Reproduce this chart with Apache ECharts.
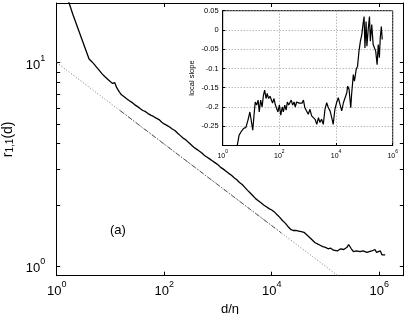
<!DOCTYPE html>
<html>
<head>
<meta charset="utf-8">
<script src="https://cdn.jsdelivr.net/npm/echarts@6/dist/echarts.min.js"></script>
<style>
html,body{margin:0;padding:0;background:#fff;}
#chart{width:407px;height:314px;}
</style>
</head>
<body>
<div id="chart"></div>
<script>
// ---- data (d/eta, r_{1,1}(d)) ----
var mainCurve = [
  [1,30],[2,17.2],[4,10.4],[4.5,10.1],[5,9.8],[5.6,9.45],[6.3,9.1],[7,8.8],[8,8.5],[9,8.25],
  [10,8.05],[11,7.9],[12,7.98],[13,7.55],[14.5,7.2],[16,6.95],[18,6.8],[20,6.65],[22.5,6.5],[25,6.38],
  [28,6.22],[32,6.08],[36,5.94],[40,5.82],[45,5.74],[50,5.62],[56,5.52],[63,5.44],[71,5.34],[80,5.25],
  [90,5.1],[100,5.0],[112,4.92],[126,4.83],[141,4.72],[158,4.64],[178,4.5],[200,4.38],[224,4.26],[251,4.18],
  [282,4.06],[316,3.95],[355,3.84],[398,3.76],[447,3.68],[501,3.6],[562,3.5],[631,3.43],[708,3.36],[794,3.29],
  [891,3.22],[1000,3.15],[1120,3.06],[1260,3.0],[1410,2.93],[1580,2.86],[1780,2.8],[2000,2.72],[2240,2.66],[2510,2.58],
  [2820,2.52],[3160,2.44],[3550,2.36],[3980,2.29],[4470,2.22],[5010,2.15],[5620,2.1],[6310,2.05],[7080,2.0],[7940,1.96],
  [8910,1.92],[10000,1.89],[11200,1.85],[12600,1.79],[14100,1.74],[15800,1.68],[17800,1.63],[20000,1.57],[22400,1.52],[25100,1.5],
  [28200,1.5],[31600,1.49],[35500,1.48],[39800,1.47],[44700,1.43],[50100,1.39],[56200,1.35],[63100,1.31],[70800,1.29],[79400,1.27],
  [89100,1.25],[100000,1.24],[112000,1.22],[123000,1.23],[141000,1.2],[166000,1.19],[191000,1.22],[219000,1.21],[251000,1.24],[269000,1.28],
  [302000,1.22],[331000,1.18],[380000,1.19],[437000,1.18],[501000,1.19],[589000,1.17],[631000,1.15],[724000,1.19],[832000,1.21],[891000,1.17],
  [1047000,1.19],[1122000,1.14],[1202000,1.15],[1288000,1.14]
];
// reference power-law guides (end points)
var refDotted = [[1,10],[1000000,0.631]];
var refDashDot = [[15,5.82],[15000,1.46]];

// ---- inset: local slope vs d/eta ----
var slopeCurve = [
  [3.2,-0.31],[3.3,-0.298],[3.8,-0.273],[4.4,-0.265],[5.4,-0.256],[6.6,-0.253],[7.8,-0.234],[9.1,-0.213],[10.5,-0.208],[11.5,-0.26],
  [12.9,-0.217],[14.1,-0.187],[15.8,-0.195],[17.8,-0.182],[19.5,-0.213],[21.9,-0.182],[24.5,-0.2],[27.5,-0.169],[30.2,-0.156],[33.9,-0.178],
  [37.2,-0.165],[41.7,-0.178],[46.8,-0.172],[52.5,-0.182],[57.5,-0.19],[64.6,-0.178],[72.4,-0.195],[79.4,-0.2],[89.1,-0.213],[100,-0.195],
  [112,-0.221],[126,-0.2],[138,-0.213],[155,-0.195],[174,-0.208],[191,-0.187],[214,-0.195],[240,-0.19],[263,-0.182],[295,-0.195],
  [331,-0.187],[363,-0.2],[407,-0.187],[457,-0.182],[501,-0.19],[562,-0.187],[631,-0.19],[708,-0.182],[794,-0.202],[912,-0.197],
  [1047,-0.219],[1202,-0.206],[1380,-0.223],[1585,-0.22],[1820,-0.232],[2089,-0.245],[2399,-0.228],[2692,-0.24],[3090,-0.232],[3548,-0.245],
  [4074,-0.206],[4677,-0.189],[5370,-0.202],[6166,-0.21],[7079,-0.228],[7943,-0.245],[9120,-0.206],[10470,-0.189],[12020,-0.176],[13800,-0.193],
  [15850,-0.21],[18200,-0.189],[20890,-0.176],[23990,-0.163],[25700,-0.146],[28840,-0.154],[33110,-0.202],[35480,-0.167],[40740,-0.116],[44670,-0.133],
  [51290,-0.103],[57540,-0.094],[64570,-0.055],[72440,-0.029],[81280,-0.012],[89130,0.014],[97720,0.035],[104700,-0.047],[114800,0.022],[123000,-0.042],
  [138000,0.005],[151400,0.035],[162200,-0.029],[182000,0.014],[204200,-0.038],[223900,-0.035],[251200,-0.055],[281800,-0.09],[309000,-0.038],[338800,-0.072],
  [363100,-0.021],[398100,0.009],[426600,-0.025]
];

// ---- axes / ticks ----
var xRange = [1, 2.8e6];
var yRange = [0.9, 19.6];
var xTickExps = [0, 2, 4, 6];
var yLabelExps = [0, 1];
var yTickValues = [1,2,3,4,5,6,7,8,9,10];
var insetXRange = [1, 1e6];
var insetYRange = [-0.3, 0.05];

var L = Math.log10;
function toLog(arr){ return arr.map(function(p){ return [L(p[0]), L(p[1])]; }); }
function toLogX(arr){ return arr.map(function(p){ return [L(p[0]), p[1]]; }); }

var FONT = "'Liberation Sans', Arial, Helvetica, sans-serif";
var powFmt = function(v){ return '{b|10}{s|' + Math.round(v) + '}'; };

var mainRich = {
  b: {fontSize: 13, lineHeight: 18, verticalAlign: 'bottom', color: '#000', fontFamily: FONT},
  s: {fontSize: 9, lineHeight: 9, verticalAlign: 'top', color: '#000', fontFamily: FONT}
};
var insetRich = {
  b: {fontSize: 7, lineHeight: 10, verticalAlign: 'bottom', color: '#000', fontFamily: FONT},
  s: {fontSize: 5, lineHeight: 5, verticalAlign: 'top', color: '#000', fontFamily: FONT}
};

var axisBlack = {show: true, onZero: false, lineStyle: {color: '#000', width: 1}};
var yTickLogs = yTickValues.map(L);

var chart = echarts.init(document.getElementById('chart'), null, {renderer: 'canvas'});
chart.setOption({
  animation: false,
  backgroundColor: '#fff',
  textStyle: {fontFamily: FONT},
  grid: [
    {left: 56.7, right: 3.7, top: 3, bottom: 38.3, outerBoundsMode: 'none', containLabel: false},
    {left: 222.7, right: 14.3, top: 10.7, bottom: 168.5, outerBoundsMode: 'none', containLabel: false,
     show: true, backgroundColor: '#fff', borderColor: '#000', borderWidth: 1}
  ],
  xAxis: [
    {gridIndex: 0, type: 'value', position: 'bottom', min: L(xRange[0]), max: L(xRange[1]),
     axisLine: axisBlack,
     axisTick: {show: true, inside: true, length: 4, lineStyle: {color: '#000'}, customValues: xTickExps},
     axisLabel: {show: true, customValues: xTickExps, margin: 4, formatter: powFmt, rich: mainRich},
     splitLine: {show: false},
     name: 'd/\u03b7', nameLocation: 'middle', nameGap: 11,
     nameTextStyle: {fontSize: 13, color: '#000', fontFamily: FONT}},
    {gridIndex: 0, type: 'value', position: 'top', min: L(xRange[0]), max: L(xRange[1]),
     axisLine: axisBlack,
     axisTick: {show: true, inside: true, length: 4, lineStyle: {color: '#000'}, customValues: xTickExps},
     axisLabel: {show: false}, splitLine: {show: false}},
    {gridIndex: 1, type: 'value', position: 'bottom', min: L(insetXRange[0]), max: L(insetXRange[1]), interval: 2,
     axisLine: axisBlack,
     axisTick: {show: true, inside: true, length: 2.5, lineStyle: {color: '#000'}},
     axisLabel: {show: true, margin: 4, formatter: powFmt, rich: insetRich},
     splitLine: {show: true, lineStyle: {color: '#999', type: [1, 2], width: 1}}}
  ],
  yAxis: [
    {gridIndex: 0, type: 'value', position: 'left', min: L(yRange[0]), max: L(yRange[1]),
     axisLine: axisBlack,
     axisTick: {show: true, inside: true, length: 3.5, lineStyle: {color: '#000'}, customValues: yTickLogs},
     axisLabel: {show: true, customValues: yLabelExps, margin: 11.5, formatter: powFmt, rich: mainRich},
     splitLine: {show: false},
     name: 'r{sub|1,1}(d)', nameLocation: 'middle', nameGap: 34, nameRotate: 90,
     nameTextStyle: {fontSize: 14, color: '#000', fontFamily: FONT,
       rich: {sub: {fontSize: 10, verticalAlign: 'bottom', lineHeight: 10, color: '#000', fontFamily: FONT}}}},
    {gridIndex: 0, type: 'value', position: 'right', min: L(yRange[0]), max: L(yRange[1]),
     axisLine: axisBlack,
     axisTick: {show: true, inside: true, length: 3.5, lineStyle: {color: '#000'}, customValues: yTickLogs},
     axisLabel: {show: false}, splitLine: {show: false}},
    {gridIndex: 1, type: 'value', position: 'left', min: insetYRange[0], max: insetYRange[1], interval: 0.05,
     axisLine: axisBlack,
     axisTick: {show: true, inside: true, length: 2.5, lineStyle: {color: '#000'}},
     axisLabel: {show: true, showMinLabel: false, margin: 4, fontSize: 7.5, color: '#000', fontFamily: FONT},
     splitLine: {show: true, lineStyle: {color: '#999', type: [1, 2], width: 1}},
     name: 'local slope', nameLocation: 'middle', nameGap: 26.5, nameRotate: 90,
     nameTextStyle: {fontSize: 7.5, color: '#000', fontFamily: FONT}}
  ],
  graphic: [
    {type: 'text', left: 110, top: 224, style: {text: '(a)', fontSize: 13, fill: '#000', fontFamily: FONT}}
  ],
  series: [
    {type: 'line', xAxisIndex: 0, yAxisIndex: 0, data: toLog(refDotted), showSymbol: false, silent: true,
     lineStyle: {color: '#777', width: 1, type: [1, 2]}, z: 2},
    {type: 'line', xAxisIndex: 0, yAxisIndex: 0, data: toLog(refDashDot), showSymbol: false, silent: true,
     lineStyle: {color: '#555', width: 1, type: [5, 2, 1, 2]}, z: 2},
    {type: 'line', xAxisIndex: 0, yAxisIndex: 0, data: toLog(mainCurve), showSymbol: false, silent: true,
     lineStyle: {color: '#000', width: 1.3}, z: 3},
    {type: 'line', xAxisIndex: 2, yAxisIndex: 2, data: toLogX(slopeCurve), showSymbol: false, silent: true,
     lineStyle: {color: '#000', width: 1.2}, z: 5}
  ]
});
</script>
</body>
</html>
